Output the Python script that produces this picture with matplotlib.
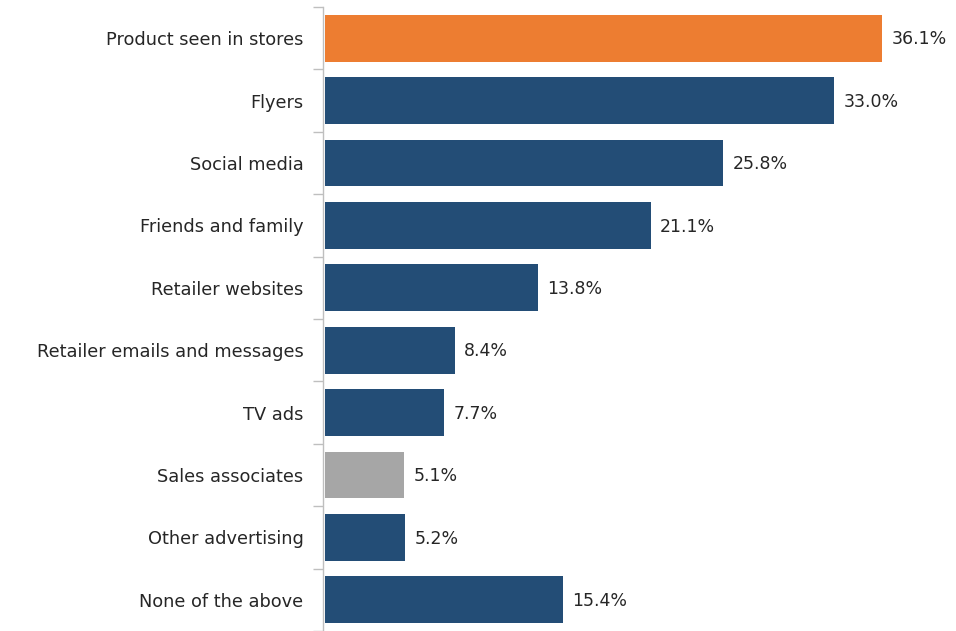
import matplotlib
matplotlib.use("Agg")
import matplotlib.pyplot as plt

categories = [
    "Product seen in stores",
    "Flyers",
    "Social media",
    "Friends and family",
    "Retailer websites",
    "Retailer emails and messages",
    "TV ads",
    "Sales associates",
    "Other advertising",
    "None of the above",
]
values = [36.1, 33.0, 25.8, 21.1, 13.8, 8.4, 7.7, 5.1, 5.2, 15.4]
bar_colors = ["#ED7D31"] + ["#234D76"] * 6 + ["#A6A6A6"] + ["#234D76"] * 2

plt.rcParams["font.family"] = ["DejaVu Sans"]

fig = plt.figure(figsize=(9.56, 6.31), dpi=100)
ax = fig.add_axes([323 / 956, 0.0, 1 - 323 / 956, 1 - 7 / 631])

n = len(categories)
ypos = list(range(n))
ax.barh(ypos, values, height=0.75, color=bar_colors, edgecolor="none")
ax.set_ylim(n - 0.5, -0.5)
ax.set_xlim(-0.15, 40.9)

for y, v in zip(ypos, values):
    ax.text(v + 0.6, y + 0.02, f"{v:.1f}%", va="center", ha="left",
            fontsize=12.5, color="#262626")

ax.set_yticks(ypos)
ax.set_yticklabels(categories)
ax.set_yticks([i - 0.5 for i in range(n + 1)], minor=True)
ax.tick_params(axis="y", which="major", length=0, pad=14,
               labelsize=12.8, labelcolor="#262626")
ax.tick_params(axis="y", which="minor", length=7, color="#BFBFBF", width=1)
ax.set_xticks([])

for side in ["top", "right", "bottom"]:
    ax.spines[side].set_visible(False)
ax.spines["left"].set_color("#BFBFBF")
ax.spines["left"].set_linewidth(1)
ax.spines["left"].set_position(("data", -0.15))

fig.savefig("out.png", dpi=100)
